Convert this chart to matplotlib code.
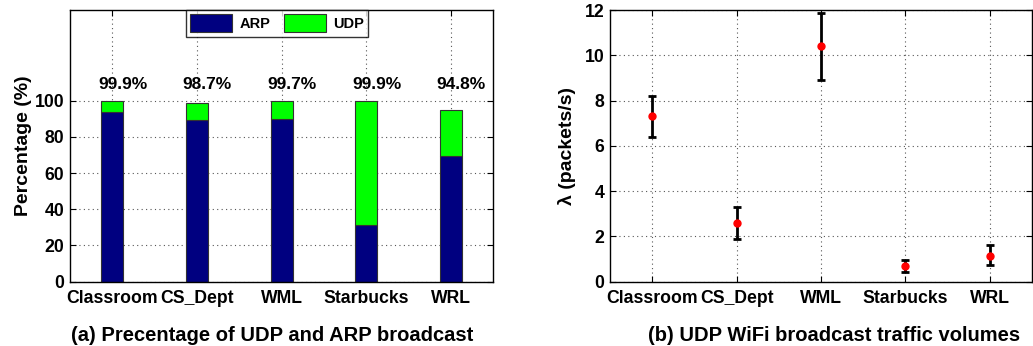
import matplotlib.pyplot as plt
import numpy as np

plt.rcParams['font.family'] = ['Liberation Sans', 'DejaVu Sans']
plt.rcParams['font.weight'] = 'bold'

sites = ['Classroom', 'CS_Dept', 'WML', 'Starbucks', 'WRL']

# share of broadcast traffic (%)
arp_pct = [93.7, 89.3, 90.0, 31.1, 69.3]
total_pct = [99.9, 98.7, 99.7, 99.9, 94.8]
total_labels = ['99.9%', '98.7%', '99.7%', '99.9%', '94.8%']

# UDP broadcast rate (packets/s): mean with lower / upper bounds
rate_mean = [7.3, 2.6, 10.4, 0.7, 1.15]
rate_low = [6.4, 1.9, 8.9, 0.45, 0.72]
rate_high = [8.2, 3.3, 11.85, 0.98, 1.62]

udp_pct = [t - a for t, a in zip(total_pct, arp_pct)]
x = np.arange(1, len(sites) + 1)


def matlab_style(ax):
    ax.tick_params(direction='in', top=True, right=True, length=4,
                   labelsize=12.7)
    ax.tick_params(axis='x', pad=6)
    ax.tick_params(axis='y', pad=4)
    ax.grid(True, linestyle=(0, (1, 3)), color='#555555', linewidth=0.8)
    ax.set_axisbelow(True)
    for s in ax.spines.values():
        s.set_linewidth(1.0)
    for lab in ax.get_xticklabels() + ax.get_yticklabels():
        lab.set_fontweight('bold')


fig = plt.figure(figsize=(10.33, 3.46), dpi=100)

# (a) stacked bars
ax1 = fig.add_axes([0.0678, 0.1858, 0.4098, 0.785])
ax1.bar(x, arp_pct, width=0.26, color='#000080', edgecolor='#333333',
        linewidth=0.8, label='ARP')
ax1.bar(x, udp_pct, width=0.26, bottom=arp_pct, color='#00ff00',
        edgecolor='#333333', linewidth=0.8, label='UDP')
for xi, lab in zip(x, total_labels):
    ax1.text(xi + 0.12, 109, lab, ha='center', va='center', fontsize=12.5,
             fontweight='bold')
ax1.set_xlim(0.5, 5.5)
ax1.set_ylim(0, 150)
ax1.set_yticks([0, 20, 40, 60, 80, 100])
ax1.set_xticks(x)
ax1.set_xticklabels(sites)
ax1.set_ylabel('Percentage (%)', fontsize=14, fontweight='bold', labelpad=2)
matlab_style(ax1)
leg = ax1.legend(loc='upper left', bbox_to_anchor=(0.273, 1.0), ncol=2,
                 fontsize=10.5, frameon=True, fancybox=False,
                 edgecolor='black', borderaxespad=0, handlelength=2.9,
                 handleheight=1.5, columnspacing=0.9, handletextpad=0.5,
                 borderpad=0.3)
leg.get_frame().set_linewidth(1.0)
for t in leg.get_texts():
    t.set_fontweight('bold')

# (b) rate with error bars
ax2 = fig.add_axes([0.5905, 0.1858, 0.4085, 0.785])
yerr = [np.subtract(rate_mean, rate_low), np.subtract(rate_high, rate_mean)]
ax2.errorbar(x, rate_mean, yerr=yerr, fmt='none', ecolor='black',
             elinewidth=2, capsize=2.7, capthick=2)
ax2.plot(x, rate_mean, 'o', color='red', markersize=5, zorder=5)
ax2.set_xlim(0.5, 5.5)
ax2.set_ylim(0, 12)
ax2.set_yticks(np.arange(0, 13, 2))
ax2.set_xticks(x)
ax2.set_xticklabels(sites)
ax2.set_ylabel('λ (packets/s)', fontsize=14, fontweight='bold', labelpad=6)
matlab_style(ax2)

fig.text(0.263, 0.03, '(a) Precentage of UDP and ARP broadcast',
         ha='center', va='center', fontsize=14.5, fontweight='bold')
fig.text(0.807, 0.03, '(b) UDP WiFi broadcast traffic volumes',
         ha='center', va='center', fontsize=14.5, fontweight='bold')

fig.savefig('out.png', dpi=100)
